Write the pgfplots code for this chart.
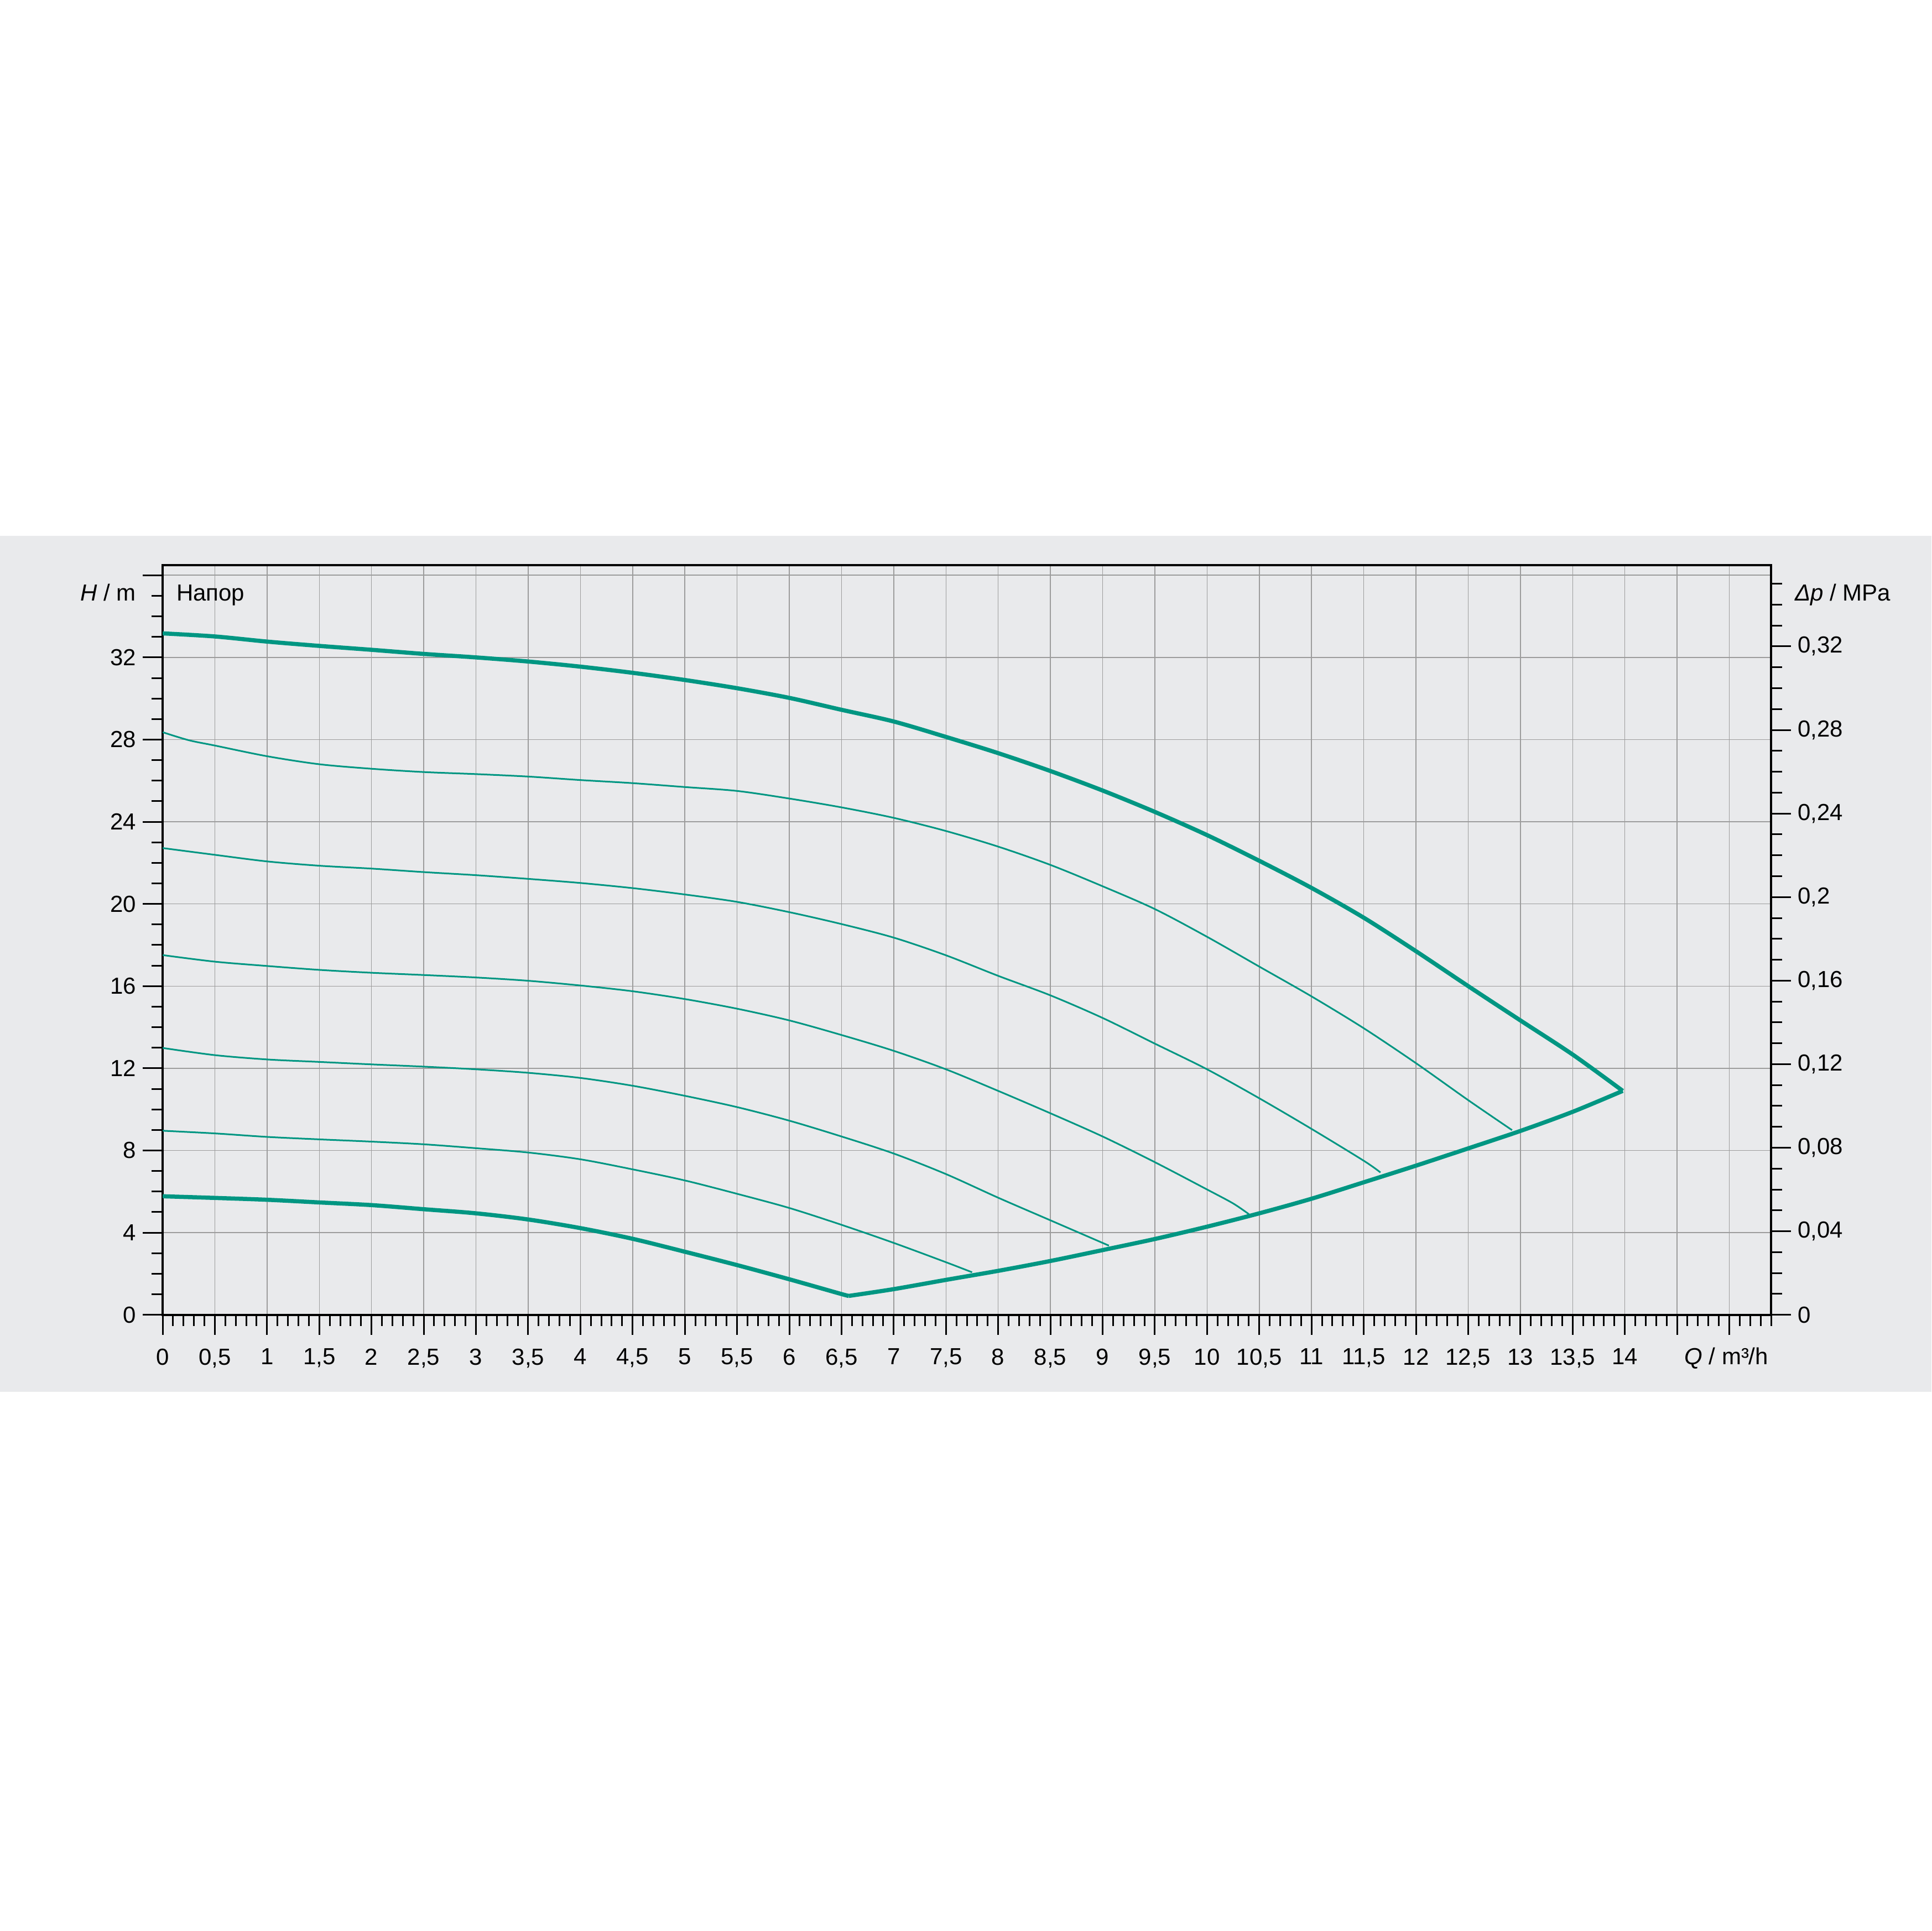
\documentclass[border=0pt]{standalone}
\usepackage{pgfplots}
\pgfplotsset{compat=1.18}
\usepackage{fontspec}
\setmainfont{Liberation Sans}
\definecolor{wilo}{HTML}{009682}
\definecolor{bandgray}{HTML}{E9EAEC}
\definecolor{gridgray}{HTML}{9C9C9C}
\begin{document}
\fontsize{8.4}{10}\selectfont
\begin{tikzpicture}
\fill[white] (0pt,0pt) rectangle (698.4pt,698.4pt);
\fill[bandgray] (0pt,195pt) rectangle (698.4pt,504.6pt);
\begin{axis}[
  at={(58.8pt,222.86pt)}, anchor=south west,
  scale only axis, width=581.6pt, height=271.2pt,
  xmin=0, xmax=15.4, ymin=0, ymax=36.5,
  axis line style={line width=0.8pt, black},
  every tick/.style={line width=0.6pt, black},
  tick align=outside,
  major tick length=7.2pt, minor tick length=4pt,
  xtick pos=left, ytick pos=left,
  xtick={0,0.5,...,15},
  xticklabels={0,0{,}5,1,1{,}5,2,2{,}5,3,3{,}5,4,4{,}5,5,5{,}5,6,6{,}5,7,7{,}5,8,8{,}5,9,9{,}5,10,10{,}5,11,11{,}5,12,12{,}5,13,13{,}5,14,{},{}},
  minor xtick={0,0.1,...,15.41},
  ytick={0,4,...,36},
  yticklabels={0,4,8,12,16,20,24,28,32,{}},
  minor ytick={0,1,...,36},
  tick label style={font=\fontsize{8.4}{10}\selectfont, inner sep=2.2pt},
  xticklabel style={yshift=-2.6pt},
  grid=major,
  major grid style={gridgray, line width=0.3pt},
  xlabel={\textit{Q} / m³/h},
  ylabel={\textit{H} / m},
  every axis x label/.style={at={(axis description cs:1,0)}, anchor=base east, yshift=-17.9pt, xshift=-0.8pt, inner sep=0pt, font=\fontsize{8.4}{10}\selectfont},
  every axis y label/.style={at={(axis description cs:0,0.952)}, anchor=base east, xshift=-9.4pt, inner sep=0pt, font=\fontsize{8.4}{10}\selectfont},
]
% maximum speed curve
\addplot[wilo, line width=1.5pt, line join=round, smooth, tension=0.5] coordinates {
(0,33.17) (0.5,33.02) (1,32.77) (1.5,32.56) (2,32.37) (2.5,32.17) (3,32.0) (3.5,31.8) (4,31.55) (4.5,31.25) (5,30.9) (5.5,30.5) (6,30.03) (6.5,29.45) (7,28.88) (7.5,28.13) (8,27.34) (8.5,26.47) (9,25.52) (9.5,24.48) (10,23.35) (10.5,22.1) (11,20.78) (11.5,19.33) (12,17.7) (12.5,16.0) (13,14.33) (13.5,12.67) (13.98,10.9)
};
% maximum flow boundary
\addplot[wilo, line width=1.5pt, line join=round, smooth, tension=0.5] coordinates {
(6.57,0.92) (7,1.25) (7.5,1.7) (8,2.14) (8.5,2.62) (9,3.15) (9.5,3.69) (10,4.29) (10.5,4.94) (11,5.65) (11.5,6.45) (12,7.26) (12.5,8.1) (13,8.95) (13.5,9.88) (13.98,10.9)
};
% minimum speed curve
\addplot[wilo, line width=1.5pt, line join=round, smooth, tension=0.5] coordinates {
(0,5.77) (0.5,5.69) (1,5.6) (1.5,5.47) (2,5.34) (2.5,5.14) (3,4.94) (3.5,4.64) (4,4.22) (4.5,3.7) (5,3.07) (5.5,2.42) (6,1.73) (6.5,1.01) (6.57,0.92)
};
% intermediate curves
\addplot[wilo, line width=0.6pt, smooth, tension=0.5] coordinates {
(0,28.36) (0.25,27.97) (0.5,27.71) (1,27.19) (1.5,26.8) (2,26.58) (2.5,26.42) (3,26.32) (3.5,26.2) (4,26.03) (4.5,25.88) (5,25.69) (5.5,25.5) (6,25.13) (6.5,24.7) (7,24.19) (7.5,23.55) (8,22.79) (8.5,21.9) (9,20.86) (9.5,19.75) (10,18.4) (10.5,16.95) (11,15.5) (11.5,13.95) (12,12.25) (12.5,10.45) (12.92,8.99)
};
\addplot[wilo, line width=0.6pt, smooth, tension=0.5] coordinates {
(0,22.72) (0.5,22.39) (1,22.07) (1.5,21.86) (2,21.72) (2.5,21.55) (3,21.4) (3.5,21.22) (4,21.02) (4.5,20.77) (5,20.46) (5.5,20.1) (6,19.6) (6.5,19.02) (7,18.36) (7.5,17.5) (8,16.5) (8.5,15.55) (9,14.45) (9.5,13.2) (10,11.95) (10.5,10.54) (11,9.05) (11.5,7.5) (11.66,6.93)
};
\addplot[wilo, line width=0.6pt, smooth, tension=0.5] coordinates {
(0,17.51) (0.5,17.19) (1,16.98) (1.5,16.79) (2,16.65) (2.5,16.54) (3,16.42) (3.5,16.26) (4,16.03) (4.5,15.75) (5,15.37) (5.5,14.9) (6,14.33) (6.5,13.62) (7,12.85) (7.5,11.95) (8,10.9) (8.5,9.81) (9,8.68) (9.5,7.43) (10,6.1) (10.25,5.42) (10.4,4.9)
};
\addplot[wilo, line width=0.6pt, smooth, tension=0.5] coordinates {
(0,12.99) (0.5,12.64) (1,12.43) (1.5,12.31) (2,12.19) (2.5,12.08) (3,11.95) (3.5,11.78) (4,11.53) (4.5,11.15) (5,10.66) (5.5,10.11) (6,9.45) (6.5,8.68) (7,7.85) (7.5,6.85) (8,5.7) (8.5,4.6) (9,3.5) (9.06,3.37)
};
\addplot[wilo, line width=0.6pt, smooth, tension=0.5] coordinates {
(0,8.96) (0.5,8.83) (1,8.66) (1.5,8.54) (2,8.43) (2.5,8.3) (3,8.11) (3.5,7.9) (4,7.57) (4.5,7.08) (5,6.54) (5.5,5.89) (6,5.2) (6.5,4.38) (7,3.5) (7.5,2.56) (7.75,2.07)
};
\node[anchor=base west, inner sep=0pt, font=\fontsize{8.4}{10}\selectfont] at (axis description cs:0,0.952) {\hspace*{4.8pt}Напор};
\end{axis}
\begin{axis}[
  at={(58.8pt,222.86pt)}, anchor=south west,
  scale only axis, width=581.6pt, height=271.2pt,
  xmin=0, xmax=15.4, ymin=0, ymax=0.359,
  axis x line=none, axis y line*=right,
  axis line style={line width=0.8pt, black},
  every tick/.style={line width=0.6pt, black},
  tick align=outside,
  major tick length=7.2pt, minor tick length=4pt,
  ytick={0,0.04,0.08,0.12,0.16,0.2,0.24,0.28,0.32},
  yticklabels={0,0{,}04,0{,}08,0{,}12,0{,}16,0{,}2,0{,}24,0{,}28,0{,}32},
  minor ytick={0,0.01,...,0.355},
  tick label style={font=\fontsize{8.4}{10}\selectfont, inner sep=2.2pt},
  ylabel={\textit{Δp} / MPa},
  every axis y label/.style={at={(axis description cs:1,0.952)}, anchor=base west, xshift=8.4pt, inner sep=0pt, font=\fontsize{8.4}{10}\selectfont},
]
\end{axis}
\end{tikzpicture}
\end{document}
